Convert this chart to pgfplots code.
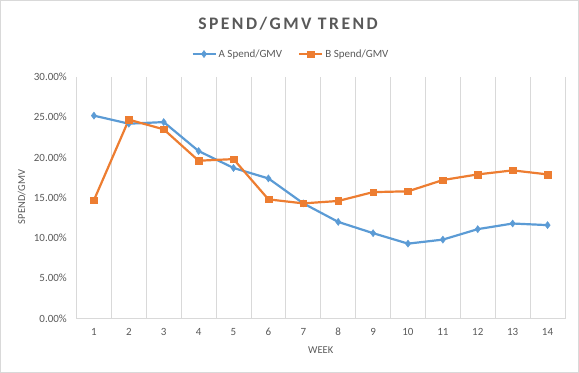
\documentclass[border=0pt]{standalone}
\usepackage{fontspec}
\setmainfont{Carlito}
\newfontfamily\titlefont[LetterSpace=14]{Carlito}
\usepackage{pgfplots}
\pgfplotsset{compat=1.18}
\definecolor{serA}{HTML}{5B9BD5}
\definecolor{serB}{HTML}{ED7D31}
\definecolor{gridc}{HTML}{D9D9D9}
\definecolor{txt}{HTML}{595959}
\begin{document}
\begin{tikzpicture}
\useasboundingbox (-76.5bp,-54.5bp) rectangle (502.5bp,318.5bp);
\begin{axis}[
  at={(0,0)}, anchor=south west,
  scale only axis, width=488.5bp, height=241.5bp,
  xmin=0.5, xmax=14.5, ymin=0, ymax=30,
  xtick={1,...,14},
  minor xtick={0.5,1.5,...,14.5},
  xminorgrids, minor grid style={gridc, line width=0.8bp},
  ytick={0,5,...,30},
  major tick length=0pt, minor tick length=0pt,
  axis lines*=left,
  axis line style={gridc, line width=0.8bp},
  /pgf/number format/assume math mode=true,
  tick label style={font=\fontsize{11bp}{13bp}\selectfont, text=txt},
  yticklabel={\pgfmathprintnumber[fixed,fixed zerofill,precision=2]{\tick}\%},
  yticklabel style={anchor=east, inner sep=0pt, xshift=-9.5bp},
  xticklabel style={anchor=center, inner sep=0pt, yshift=-13.5bp},
  legend style={at={(0.439,1.095)}, anchor=center, draw=none, fill=none,
    font=\fontsize{11bp}{13bp}\selectfont, text=txt, legend columns=2,
    /tikz/every even column/.append style={column sep=14bp},
    inner sep=0pt},
  legend image code/.code={
    \draw[mark repeat=2,mark phase=2] plot coordinates {(0bp,0bp)(11.5bp,0bp)(23bp,0bp)};},
  clip=false,
]
\addplot[serA, line width=2.2bp, mark=diamond*, mark size=3.6bp, mark options={solid, fill=serA, line width=0.4bp}]
  coordinates {(1,25.2)(2,24.2)(3,24.4)(4,20.8)(5,18.7)(6,17.4)(7,14.3)(8,12.0)(9,10.6)(10,9.3)(11,9.8)(12,11.1)(13,11.8)(14,11.6)};
\addlegendentry{A Spend/GMV}
\addplot[serB, line width=2.2bp, mark=square*, mark size=3.3bp, mark options={solid, fill=serB, line width=0.4bp}]
  coordinates {(1,14.7)(2,24.7)(3,23.5)(4,19.6)(5,19.8)(6,14.8)(7,14.3)(8,14.6)(9,15.7)(10,15.8)(11,17.2)(12,17.9)(13,18.4)(14,17.9)};
\addlegendentry{B Spend/GMV}
\end{axis}
\node[text=txt, font=\titlefont\fontsize{17.6bp}{20bp}\selectfont\bfseries] at (211.5bp,295.2bp) {SPEND/GMV TREND};
\node[text=txt, font=\fontsize{10.5bp}{12bp}\selectfont, rotate=90] at (-54.8bp,121.5bp) {SPEND/GMV};
\node[text=txt, font=\fontsize{10.5bp}{12bp}\selectfont] at (244.2bp,-31.5bp) {WEEK};
\draw[gridc, line width=1bp] (-76bp,-54bp) rectangle (502bp,318bp);
\end{tikzpicture}
\end{document}
